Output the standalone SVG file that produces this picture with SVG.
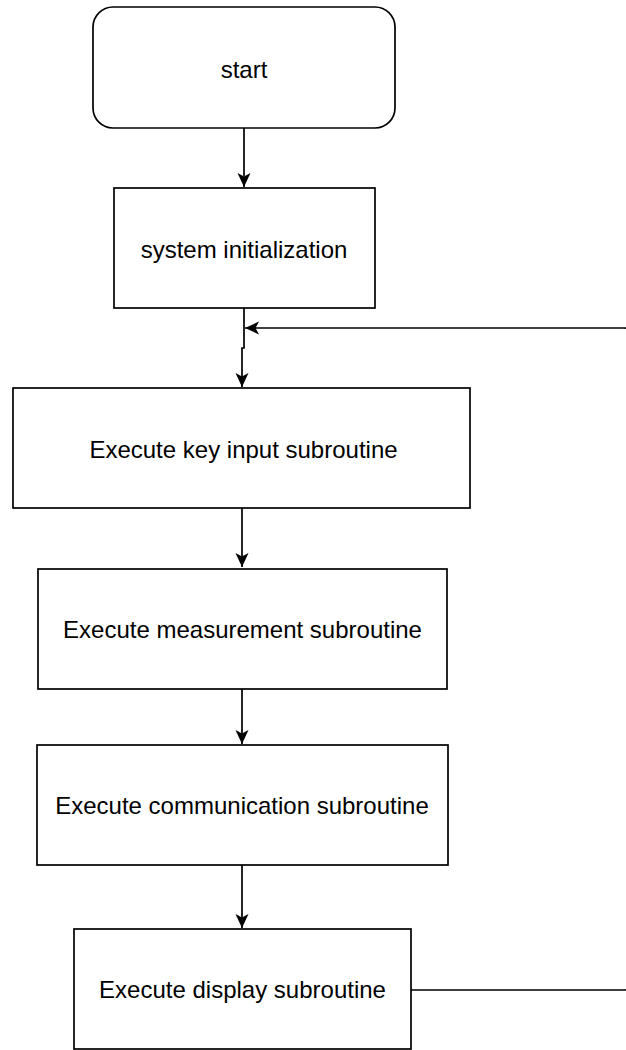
<svg xmlns="http://www.w3.org/2000/svg" width="626" height="1050" viewBox="0 0 626 1050">
<style>
.box{fill:#fff;stroke:#000;stroke-width:1.7}
.lbl{font-family:"Liberation Sans",Arial,sans-serif;font-size:24px;fill:#000;text-anchor:middle}
.edge{fill:none;stroke:#000;stroke-width:1.7}
</style>
<defs>
<marker id="arr" markerUnits="userSpaceOnUse" markerWidth="16" markerHeight="16" viewBox="0 0 16 16" refX="15" refY="8" orient="auto">
<path d="M1,1.5 L15,8 L1,14.5 L4.5,8 z" fill="#000"/>
</marker>
</defs>
<rect width="626" height="1050" fill="#fff"/>
<g id="connectors">
<path class="edge" d="M244,128 V187" marker-end="url(#arr)"/>
<path class="edge" d="M244,308 V348 H242 V387" marker-end="url(#arr)"/>
<path class="edge" d="M242,508 V567" marker-end="url(#arr)"/>
<path class="edge" d="M242,689 V744" marker-end="url(#arr)"/>
<path class="edge" d="M242,865 V928" marker-end="url(#arr)"/>
<path class="edge" d="M411,990 H624 Q631,990 631,983 V335 Q631,328 624,328 H245" marker-end="url(#arr)"/>
</g>
<g id="start">
<rect class="box" x="93" y="7" width="302" height="121" rx="20" ry="20"/>
<text class="lbl" x="244" y="77.5">start</text>
</g>
<g id="init">
<rect class="box" x="114" y="188" width="261" height="120"/>
<text class="lbl" x="244" y="257.5">system initialization</text>
</g>
<g id="key">
<rect class="box" x="13" y="388" width="457" height="120"/>
<text class="lbl" x="243.5" y="457.5">Execute key input subroutine</text>
</g>
<g id="measure">
<rect class="box" x="38" y="569" width="409" height="120"/>
<text class="lbl" x="242.5" y="637.5">Execute measurement subroutine</text>
</g>
<g id="comm">
<rect class="box" x="37" y="745" width="411" height="120"/>
<text class="lbl" x="242" y="813.5">Execute communication subroutine</text>
</g>
<g id="display">
<rect class="box" x="74" y="929" width="337" height="120"/>
<text class="lbl" x="242.5" y="997.5">Execute display subroutine</text>
</g>
</svg>
